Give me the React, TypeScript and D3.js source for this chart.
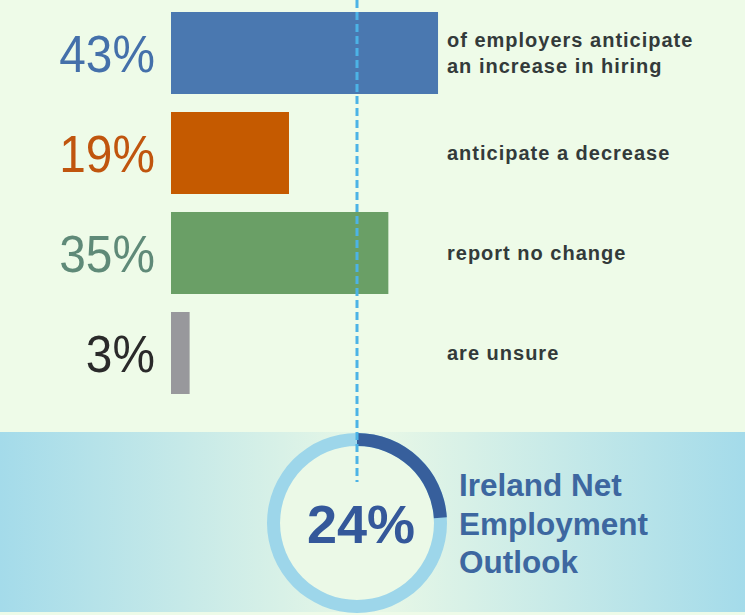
import { useEffect } from 'react'
import * as d3 from 'd3'

const categories = ['increase', 'decrease', 'noChange', 'unsure']
const values = [43, 19, 35, 3]
const valueLabels = ['43%', '19%', '35%', '3%']
const descriptions = [
  ['of employers anticipate', 'an increase in hiring'],
  ['anticipate a decrease'],
  ['report no change'],
  ['are unsure'],
]
const barColors = ['#4a78b0', '#c55a00', '#6a9f66', '#98989c']
const labelColors = ['#4470aa', '#c0550e', '#5f8a78', '#2a2a2a']
const netOutlook = 24
const outlookTitle = ['Ireland Net', 'Employment', 'Outlook']

const W = 745
const H = 615

export default function App() {
  useEffect(() => {
    document.body.style.margin = '0'
  }, [])

  const x = d3.scaleLinear().domain([0, 100]).range([0, 621])
  const y = d3.scaleBand<string>()
    .domain(categories)
    .range([12, 394])
    .paddingInner(0.18)
    .paddingOuter(0)

  const barLeft = 171
  const cx = 357
  const cy = 523
  const outerR = 90
  const ringW = 13

  const ring = d3.arc()({
    innerRadius: outerR - ringW,
    outerRadius: outerR,
    startAngle: 0,
    endAngle: Math.PI * 2,
  }) || ''
  const outlookArc = d3.arc()({
    innerRadius: outerR - ringW,
    outerRadius: outerR,
    startAngle: 0,
    endAngle: Math.PI * 2 * (netOutlook / 100),
  }) || ''

  const font = 'Liberation Sans, Arial, sans-serif'

  return (
    <svg width={W} height={H} style={{ display: 'block' }} fontFamily={font}>
      <defs>
        <linearGradient id="band" x1="0" x2="1" y1="0" y2="0">
          <stop offset="0%" stopColor="#a4dbea" />
          <stop offset="50%" stopColor="#e9f8e6" />
          <stop offset="100%" stopColor="#a4dbea" />
        </linearGradient>
      </defs>
      <rect x={0} y={0} width={W} height={H} fill="#eefbe8" />
      <rect x={0} y={432} width={W} height={180} fill="url(#band)" />

      {categories.map((c, i) => {
        const by = y(c) || 0
        const mid = by + y.bandwidth() / 2
        return (
          <g key={c}>
            <rect x={barLeft} y={by} width={x(values[i])} height={y.bandwidth()} fill={barColors[i]} />
            <text
              transform={`translate(155,${mid + 19}) scale(0.92,1)`}
              textAnchor="end"
              fontSize={52}
              fill={labelColors[i]}
            >
              {valueLabels[i]}
            </text>
            <text
              x={447}
              y={mid + 7 - (descriptions[i].length - 1) * 13}
              fontSize={20}
              letterSpacing={1}
              fontWeight="bold"
              fill="#333a3a"
            >
              {descriptions[i].map((line, j) => (
                <tspan key={j} x={447} dy={j === 0 ? 0 : 26}>{line}</tspan>
              ))}
            </text>
          </g>
        )
      })}

      <g transform={`translate(${cx},${cy})`}>
        <circle r={outerR - ringW} fill="#ebf9e7" />
        <path d={ring} fill="#9dd6ea" />
        <path d={outlookArc} fill="#375f9c" />
      </g>

      <line
        x1={cx}
        x2={cx}
        y1={0}
        y2={482}
        stroke="#4cb3e6"
        strokeWidth={3}
        strokeDasharray="8 4"
      />

      <text x={cx + 4} y={543} textAnchor="middle" fontSize={54} fontWeight="bold" fill="#34589a">
        {netOutlook}%
      </text>

      <text x={459} y={496} fontSize={31.5} fontWeight="bold" fill="#3d67a0">
        {outlookTitle.map((line, j) => (
          <tspan key={j} x={459} dy={j === 0 ? 0 : 38.5}>{line}</tspan>
        ))}
      </text>
    </svg>
  )
}
